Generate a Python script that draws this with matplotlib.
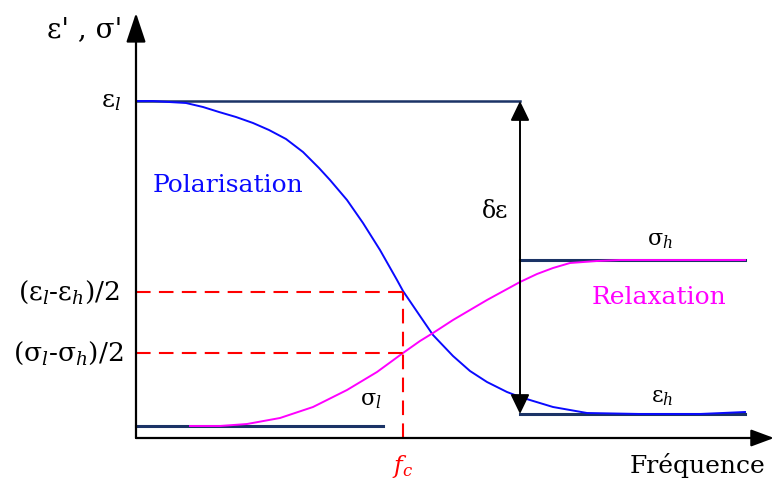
import numpy as np
import matplotlib.pyplot as plt

plt.rcParams['font.family'] = 'DejaVu Serif'
plt.rcParams['mathtext.fontset'] = 'dejavuserif'

# schematic units: distance from the origin (px)
eps_l, eps_h = 337, 24        # permittivity levels
sig_l, sig_h = 12, 178        # conductivity levels
f_c = 267                     # critical frequency
y_eps_half, y_sig_half = 146, 85

# Polarisation curve (blue)
pol_x = [0, 17, 33, 50, 67, 83, 100, 117, 133, 150, 167, 183, 194, 211, 227,
         244, 261, 267, 284, 297, 317, 334, 351, 371, 384, 417, 451, 504, 564, 609]
pol_y = [337, 337, 336, 335, 331, 326, 321, 315, 308, 299, 286, 270, 258, 238,
         215, 188, 158, 147, 122, 103, 82, 67, 56, 46, 41, 31, 25, 24, 24, 26]

# Relaxation curve (magenta)
rel_x = [54, 84, 111, 144, 177, 211, 241, 267, 284, 297, 317, 351, 384, 401,
         417, 434, 461, 484, 609]
rel_y = [12, 12, 14, 20, 31, 48, 66, 85, 97, 105, 118, 138, 156, 164,
         170, 175, 177, 178, 178]

fig = plt.figure(figsize=(7.74, 4.82), dpi=100)
ax = fig.add_axes([0, 0, 1, 1])
ax.set_xlim(-136, 638)
ax.set_ylim(-44, 438)
ax.axis('off')

navy = '#1b3366'
# axes with arrows
ax.annotate('', xy=(0, 425), xytext=(0, 0),
            arrowprops=dict(arrowstyle='-|>,head_length=0.9,head_width=0.3',
                            color='black', lw=1.6, mutation_scale=20,
                            shrinkA=0, shrinkB=0))
ax.annotate('', xy=(638, 0), xytext=(0, 0),
            arrowprops=dict(arrowstyle='-|>,head_length=0.7,head_width=0.26',
                            color='black', lw=1.6, mutation_scale=20,
                            shrinkA=0, shrinkB=0))

# level lines
ax.plot([0, 384], [eps_l, eps_l], color=navy, lw=1.8)
ax.plot([384, 609], [eps_h, eps_h], color=navy, lw=2.2)
ax.plot([384, 609], [sig_h, sig_h], color=navy, lw=2.2)
ax.plot([0, 247], [sig_l, sig_l], color=navy, lw=2.2)

# curves
ax.plot(pol_x, pol_y, color='#0a0aff', lw=1.4, solid_joinstyle='round')
ax.plot(rel_x, rel_y, color='#ff00ff', lw=1.4, solid_joinstyle='round')

# delta epsilon double arrow
ax.annotate('', xy=(384, eps_h), xytext=(384, eps_l),
            arrowprops=dict(arrowstyle='<|-|>,head_length=0.6,head_width=0.29',
                            color='black', lw=1.4, mutation_scale=20,
                            shrinkA=0, shrinkB=0))

# red dashed guides
dash = dict(color='#ff0000', lw=1.5, dashes=(7, 4))
ax.plot([0, f_c], [y_eps_half, y_eps_half], **dash)
ax.plot([0, f_c], [y_sig_half, y_sig_half], **dash)
ax.plot([f_c, f_c], [0, y_eps_half], **dash)

# labels
ax.text(-51, 408, "ε' , σ'", fontsize=20, ha='center', va='center')
ax.text(-15, 337, 'ε$_l$', fontsize=18, ha='right', va='center')
ax.text(-16, y_eps_half, '(ε$_l$-ε$_h$)/2', fontsize=19, ha='right', va='center')
ax.text(-13, y_sig_half, '(σ$_l$-σ$_h$)/2', fontsize=19, ha='right', va='center')
ax.text(17, 252, 'Polarisation', fontsize=18, color='#0a0aff', va='center')
ax.text(456, 141, 'Relaxation', fontsize=18, color='#ff00ff', va='center')
ax.text(372, 226, 'δε', fontsize=17, ha='right', va='center')
ax.text(524, 198, 'σ$_h$', fontsize=16, ha='center', va='center')
ax.text(526, 41, 'ε$_h$', fontsize=16, ha='center', va='center')
ax.text(235, 38, 'σ$_l$', fontsize=16, ha='center', va='center')
ax.text(f_c, -28, '$f_c$', fontsize=17, color='#ff0000', ha='center', va='center')
ax.text(629, -27, 'Fréquence', fontsize=18, ha='right', va='center')

fig.savefig('out.png', dpi=100)
